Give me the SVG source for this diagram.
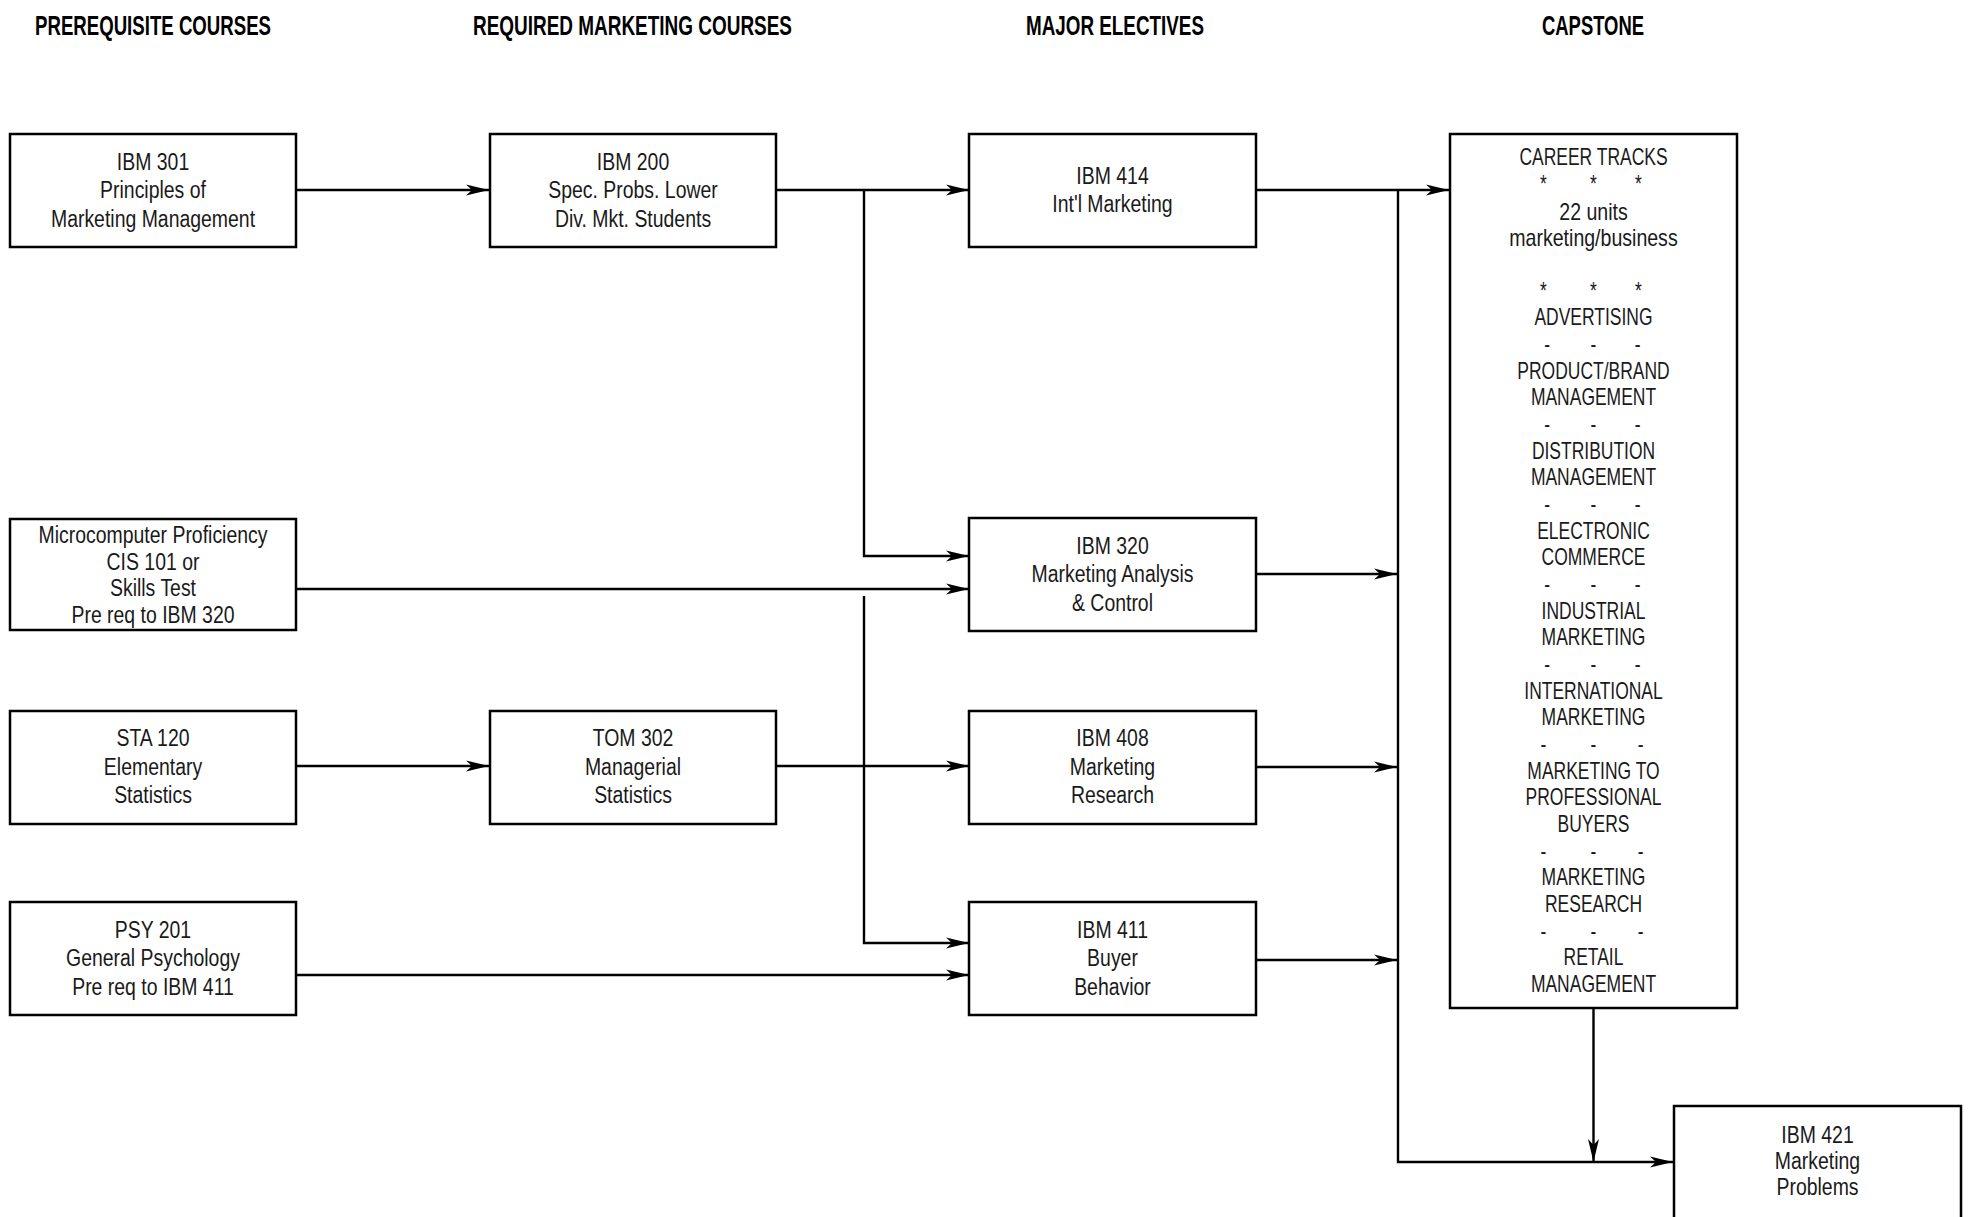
<svg xmlns="http://www.w3.org/2000/svg" width="1969" height="1217" viewBox="0 0 1969 1217">
<style>
.bg{fill:#fff}
.box{fill:#fff;stroke:#000;stroke-width:2.5}
.t{font-family:"Liberation Sans",Arial,sans-serif;font-size:24px;text-anchor:middle;fill:#1a1a1a}
.ct{font-family:"Liberation Sans",Arial,sans-serif;font-size:23px;text-anchor:middle;fill:#1a1a1a}
.h{font-family:"Liberation Sans",Arial,sans-serif;font-weight:bold;font-size:28px;text-anchor:middle;fill:#000}
.c{stroke:#000;stroke-width:2.4;fill:none}
.a{marker-end:url(#ah)}
</style>
<defs>
<marker id="ah" markerWidth="24" markerHeight="12" refX="23" refY="6" orient="auto" markerUnits="userSpaceOnUse">
<path d="M0,0.5 L23,6 L0,11.5 L6,6 Z" fill="#000"/>
</marker>
</defs>
<rect class="bg" x="0" y="0" width="1969" height="1217"/>

<g id="headers">
<text class="h" x="153" y="35" textLength="236" lengthAdjust="spacingAndGlyphs">PREREQUISITE COURSES</text>
<text class="h" x="632.5" y="35" textLength="319" lengthAdjust="spacingAndGlyphs">REQUIRED MARKETING COURSES</text>
<text class="h" x="1115" y="35" textLength="178" lengthAdjust="spacingAndGlyphs">MAJOR ELECTIVES</text>
<text class="h" x="1593" y="35" textLength="102" lengthAdjust="spacingAndGlyphs">CAPSTONE</text>
</g>

<g id="connectors">
<path class="c a" d="M296,190 H489"/>
<path class="c a" d="M776,190 H969"/>
<path class="c a" d="M864,190 V556 H969"/>
<path class="c a" d="M296,589 H969"/>
<path class="c a" d="M864,596 V943 H969"/>
<path class="c a" d="M296,766 H489"/>
<path class="c a" d="M776,766 H969"/>
<path class="c a" d="M296,975 H969"/>
<path class="c a" d="M1256,190 H1449"/>
<path class="c a" d="M1256,574 H1397"/>
<path class="c a" d="M1256,767 H1397"/>
<path class="c a" d="M1256,960 H1397"/>
<path class="c a" d="M1398,190 V1162 H1673"/>
<path class="c a" d="M1593.5,1008 V1162"/>
</g>

<g id="ibm301">
<rect class="box" x="10" y="134" width="286" height="113"/>
<g transform="translate(153 0) scale(0.81 1)">
<text class="t" y="170">IBM 301</text>
<text class="t" y="198.5">Principles of</text>
<text class="t" y="227">Marketing Management</text>
</g>
</g>

<g id="ibm200">
<rect class="box" x="490" y="134" width="286" height="113"/>
<g transform="translate(633 0) scale(0.81 1)">
<text class="t" y="170">IBM 200</text>
<text class="t" y="198.5">Spec. Probs. Lower</text>
<text class="t" y="227">Div. Mkt. Students</text>
</g>
</g>

<g id="ibm414">
<rect class="box" x="969" y="134" width="287" height="113"/>
<g transform="translate(1112.5 0) scale(0.81 1)">
<text class="t" y="184">IBM 414</text>
<text class="t" y="212">Int'l Marketing</text>
</g>
</g>

<g id="micro">
<rect class="box" x="10" y="519" width="286" height="111"/>
<g transform="translate(153 0) scale(0.81 1)">
<text class="t" y="543">Microcomputer Proficiency</text>
<text class="t" y="570">CIS 101 or</text>
<text class="t" y="596">Skills Test</text>
<text class="t" y="623">Pre req to IBM 320</text>
</g>
</g>

<g id="ibm320">
<rect class="box" x="969" y="518" width="287" height="113"/>
<g transform="translate(1112.5 0) scale(0.81 1)">
<text class="t" y="554">IBM 320</text>
<text class="t" y="582.5">Marketing Analysis</text>
<text class="t" y="611">&amp; Control</text>
</g>
</g>

<g id="sta120">
<rect class="box" x="10" y="711" width="286" height="113"/>
<g transform="translate(153 0) scale(0.81 1)">
<text class="t" y="746">STA 120</text>
<text class="t" y="775">Elementary</text>
<text class="t" y="803">Statistics</text>
</g>
</g>

<g id="tom302">
<rect class="box" x="490" y="711" width="286" height="113"/>
<g transform="translate(633 0) scale(0.81 1)">
<text class="t" y="746">TOM 302</text>
<text class="t" y="775">Managerial</text>
<text class="t" y="803">Statistics</text>
</g>
</g>

<g id="ibm408">
<rect class="box" x="969" y="711" width="287" height="113"/>
<g transform="translate(1112.5 0) scale(0.81 1)">
<text class="t" y="746">IBM 408</text>
<text class="t" y="775">Marketing</text>
<text class="t" y="803">Research</text>
</g>
</g>

<g id="psy201">
<rect class="box" x="10" y="902" width="286" height="113"/>
<g transform="translate(153 0) scale(0.81 1)">
<text class="t" y="938">PSY 201</text>
<text class="t" y="966.5">General Psychology</text>
<text class="t" y="995">Pre req to IBM 411</text>
</g>
</g>

<g id="ibm411">
<rect class="box" x="969" y="902" width="287" height="113"/>
<g transform="translate(1112.5 0) scale(0.81 1)">
<text class="t" y="938">IBM 411</text>
<text class="t" y="966.5">Buyer</text>
<text class="t" y="995">Behavior</text>
</g>
</g>

<g id="capstone">
<rect class="box" x="1450" y="134" width="287" height="874"/>
<g transform="translate(1593.5 2.5) scale(0.76 1)">
<text class="ct" y="163">CAREER TRACKS</text>
<text class="ct" x="-66" y="189.7">*</text><text class="ct" x="0" y="189.7">*</text><text class="ct" x="59" y="189.7">*</text>
<text class="ct" x="-66" y="296.3">*</text><text class="ct" x="0" y="296.3">*</text><text class="ct" x="59" y="296.3">*</text>
<text class="ct" y="323">ADVERTISING</text>
<text class="ct" x="-61" y="349.7">-</text><text class="ct" x="0" y="349.7">-</text><text class="ct" x="58" y="349.7">-</text>
<text class="ct" y="376.3">PRODUCT/BRAND</text>
<text class="ct" y="403">MANAGEMENT</text>
<text class="ct" x="-61" y="429.7">-</text><text class="ct" x="0" y="429.7">-</text><text class="ct" x="58" y="429.7">-</text>
<text class="ct" y="456.3">DISTRIBUTION</text>
<text class="ct" y="483">MANAGEMENT</text>
<text class="ct" x="-61" y="509.7">-</text><text class="ct" x="0" y="509.7">-</text><text class="ct" x="58" y="509.7">-</text>
<text class="ct" y="536.3">ELECTRONIC</text>
<text class="ct" y="563">COMMERCE</text>
<text class="ct" x="-61" y="589.7">-</text><text class="ct" x="0" y="589.7">-</text><text class="ct" x="58" y="589.7">-</text>
<text class="ct" y="616.3">INDUSTRIAL</text>
<text class="ct" y="643">MARKETING</text>
<text class="ct" x="-61" y="669.7">-</text><text class="ct" x="0" y="669.7">-</text><text class="ct" x="58" y="669.7">-</text>
<text class="ct" y="696.3">INTERNATIONAL</text>
<text class="ct" y="723">MARKETING</text>
<text class="ct" x="-66" y="749.7">-</text><text class="ct" x="0" y="749.7">-</text><text class="ct" x="62" y="749.7">-</text>
<text class="ct" y="776.3">MARKETING TO</text>
<text class="ct" y="803">PROFESSIONAL</text>
<text class="ct" y="829.7">BUYERS</text>
<text class="ct" x="-66" y="856.3">-</text><text class="ct" x="0" y="856.3">-</text><text class="ct" x="62" y="856.3">-</text>
<text class="ct" y="883">MARKETING</text>
<text class="ct" y="909.7">RESEARCH</text>
<text class="ct" x="-66" y="936.3">-</text><text class="ct" x="0" y="936.3">-</text><text class="ct" x="62" y="936.3">-</text>
<text class="ct" y="963">RETAIL</text>
<text class="ct" y="989.7">MANAGEMENT</text>
</g>
<g transform="translate(1593.5 3.5) scale(0.85 1)">
<text class="ct" y="216.3">22 units</text>
<text class="ct" y="243">marketing/business</text>
</g>
</g>

<g id="ibm421">
<rect class="box" x="1674" y="1106" width="287" height="120"/>
<g transform="translate(1817.5 0) scale(0.81 1)">
<text class="t" y="1143">IBM 421</text>
<text class="t" y="1169.5">Marketing</text>
<text class="t" y="1195.5">Problems</text>
</g>
</g>
</svg>
